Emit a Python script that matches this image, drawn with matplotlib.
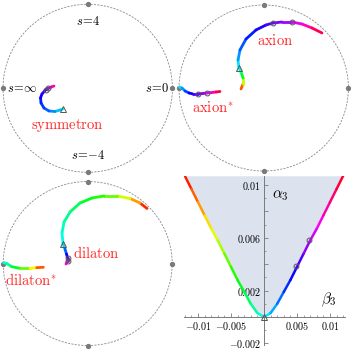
import numpy as np
import matplotlib
matplotlib.use('Agg')
import matplotlib.pyplot as plt
from matplotlib.collections import LineCollection
from matplotlib.patches import Circle
from matplotlib.colors import Normalize
from matplotlib.ticker import FixedLocator, FixedFormatter

plt.rcParams['mathtext.fontset'] = 'cm'

# ---- disk-panel trajectories (unit disk coords) with hue along the curve ----
sym_x = [-0.292, -0.327, -0.386, -0.457, -0.516, -0.551, -0.557, -0.540, -0.504, -0.469, -0.433, -0.398]
sym_y = [-0.246, -0.258, -0.276, -0.270, -0.235, -0.175, -0.115, -0.068, -0.026, -0.002, 0.015, 0.027]
sym_h = [0.50, 0.53, 0.57, 0.60, 0.63, 0.65, 0.67, 0.69, 0.72, 0.76, 0.84, 0.97]
sym_marks_x = [-0.491, -0.463]
sym_marks_y = [-0.018, -0.002]

axion_x = [-0.268, -0.244, -0.244, -0.268, -0.292, -0.303, -0.280, -0.209, -0.091, 0.027,
           0.110, 0.216, 0.334, 0.452, 0.570, 0.688]
axion_y = [-0.012, 0.048, 0.120, 0.193, 0.241, 0.337, 0.458, 0.590, 0.699, 0.759,
           0.783, 0.795, 0.795, 0.771, 0.723, 0.663]
axion_h = [0.0, 0.12, 0.30, 0.42, 0.50, 0.55, 0.60, 0.64, 0.68, 0.71,
           0.74, 0.77, 0.80, 0.85, 0.92, 1.0]
axion_marks_x = [0.110, 0.334]
axion_marks_y = [0.783, 0.795]

axs_x = [-0.994, -0.965, -0.929, -0.882, -0.835, -0.776, -0.717, -0.670, -0.610, -0.563, -0.516]
axs_y = [0.012, 0.0, -0.036, -0.060, -0.072, -0.072, -0.066, -0.060, -0.054, -0.048, -0.042]
axs_h = [0.50, 0.55, 0.60, 0.66, 0.70, 0.74, 0.77, 0.80, 0.86, 0.93, 1.0]
axs_marks_x = [-0.776, -0.670]
axs_marks_y = [-0.072, -0.060]

dil_x = [0.702, 0.619, 0.501, 0.347, 0.193, 0.051, -0.091, -0.209, -0.280, -0.304,
         -0.292, -0.269, -0.251, -0.239, -0.239, -0.257]
dil_y = [0.671, 0.738, 0.793, 0.823, 0.823, 0.799, 0.738, 0.628, 0.506, 0.372,
         0.238, 0.177, 0.116, 0.067, 0.030, -0.006]
dil_h = [0.0, 0.06, 0.15, 0.25, 0.30, 0.34, 0.38, 0.42, 0.45, 0.48,
         0.50, 0.57, 0.65, 0.72, 0.80, 0.95]
dil_marks_x = [-0.239, -0.239]
dil_marks_y = [0.067, 0.030]

dls_x = [-0.996, -0.959, -0.899, -0.801, -0.683, -0.604, -0.525]
dls_y = [0.012, 0.0, -0.039, -0.059, -0.059, -0.051, -0.046]
dls_h = [0.50, 0.47, 0.40, 0.33, 0.22, 0.12, 0.0]

# ---- alpha3 vs beta3 boundary ----
beta3 = [-0.012, -0.011, -0.010, -0.009, -0.008, -0.007, -0.006, -0.005, -0.004, -0.003,
         -0.002, -0.001, 0.0, 0.001, 0.002, 0.003, 0.004, 0.005, 0.006, 0.007,
         0.008, 0.009, 0.010, 0.011, 0.012]
alpha3 = [0.0107, 0.0097, 0.0087, 0.0077, 0.0067, 0.0058, 0.0048, 0.0038, 0.0028, 0.0019,
          0.0010, 0.0003, 0.0, 0.0003, 0.0010, 0.0019, 0.0028, 0.0038, 0.0048, 0.0058,
          0.0067, 0.0077, 0.0087, 0.0097, 0.0107]
pt_beta = [0.0048, 0.0068]
pt_alpha = [0.0039, 0.0058]

W, H = 351, 349
RED = '#ff2424'
MEC = '#555555'


def hue_line(ax, x, y, colors, lw=2.0):
    pts = np.column_stack([x, y])
    segs = np.stack([pts[:-1], pts[1:]], axis=1)
    lc = LineCollection(segs, colors=colors, linewidths=lw, capstyle='round', joinstyle='round')
    ax.add_collection(lc)


def mid_hue(h):
    h = np.asarray(h)
    return plt.cm.hsv((h[:-1] + h[1:]) / 2)


def disk_axes(fig, cx, cy, rx, ry):
    pad = 1.04
    ax = fig.add_axes([(cx - pad * rx) / W, (H - cy - pad * ry) / H, 2 * pad * rx / W, 2 * pad * ry / H])
    ax.set_xlim(-pad, pad)
    ax.set_ylim(-pad, pad)
    ax.axis('off')
    ax.add_patch(Circle((0, 0), 1, fill=False, ec='#8a8a8a', lw=0.6, ls=(0, (2.5, 1.5))))
    ax.plot([0, 0, 1, -1], [1, -1, 0, 0], 'o', ms=2.8, color='#7a7a7a', clip_on=False)
    return ax


def marks(ax, x, y, marker='o', ms=3.5):
    ax.plot(x, y, marker, ms=ms, mfc='none', mec=MEC, mew=0.7, zorder=5)


fig = plt.figure(figsize=(W / 100, H / 100), dpi=100)

# top-left: symmetron
ax1 = disk_axes(fig, 87.7, 88.3, 84.7, 84)
hue_line(ax1, sym_x, sym_y, mid_hue(sym_h))
marks(ax1, sym_marks_x, sym_marks_y)
marks(ax1, [sym_x[0]], [sym_y[0]], '^', 4)
ax1.text(0, 0.79, r'$s\!=\!4$', ha='center', va='center', fontsize=9)
ax1.text(-0.77, 0, r'$s\!=\!\infty$', ha='center', va='center', fontsize=9)
ax1.text(0.815, 0, r'$s\!=\!0$', ha='center', va='center', fontsize=9)
ax1.text(0, -0.80, r'$s\!=\!{-}4$', ha='center', va='center', fontsize=9)
ax1.text(-0.24, -0.445, r'$\mathrm{symmetron}$', ha='center', va='center', fontsize=10.5, color=RED)

# top-right: axion
ax2 = disk_axes(fig, 263.7, 88, 84.7, 83)
hue_line(ax2, axion_x, axion_y, mid_hue(axion_h))
hue_line(ax2, axs_x, axs_y, mid_hue(axs_h))
marks(ax2, axion_marks_x, axion_marks_y)
marks(ax2, axs_marks_x, axs_marks_y)
marks(ax2, [axion_x[4]], [axion_y[4]], '^', 4)
ax2.text(0.13, 0.578, r'$\mathrm{axion}$', ha='center', va='center', fontsize=10.5, color=RED)
ax2.text(-0.60, -0.233, r'$\mathrm{axion}^{*}$', ha='center', va='center', fontsize=10.5, color=RED)

# bottom-left: dilaton
ax3 = disk_axes(fig, 87.7, 263.5, 84.5, 82)
hue_line(ax3, dil_x, dil_y, mid_hue(dil_h))
hue_line(ax3, dls_x, dls_y, mid_hue(dls_h))
marks(ax3, dil_marks_x, dil_marks_y)
marks(ax3, [dil_x[10]], [dil_y[10]], '^', 4)
ax3.text(0.10, 0.124, r'$\mathrm{dilaton}$', ha='center', va='center', fontsize=10.5, color=RED)
ax3.text(-0.67, -0.20, r'$\mathrm{dilaton}^{*}$', ha='center', va='center', fontsize=10.5, color=RED)

# bottom-right: alpha3 vs beta3
x0, y0, sx, sy = 264, 317, 6600, 13200
xlo, xhi, ylo, yhi = -0.0121, 0.0122, -0.0021, 0.0107
ax4 = fig.add_axes([(x0 + xlo * sx) / W, (H - y0 + ylo * sy) / H,
                    (xhi - xlo) * sx / W, (yhi - ylo) * sy / H])
ax4.set_xlim(xlo, xhi)
ax4.set_ylim(ylo, yhi)
ax4.fill_between(beta3, alpha3, yhi, color='#dde3ee', lw=0)
b = np.asarray(beta3)
hue_line(ax4, beta3, alpha3, plt.cm.hsv(Normalize(-0.012, 0.012)((b[:-1] + b[1:]) / 2)), lw=1.8)
marks(ax4, pt_beta, pt_alpha)
marks(ax4, [0], [0], '^', 4)

for s in ['top', 'right']:
    ax4.spines[s].set_visible(False)
for s in ['left', 'bottom']:
    ax4.spines[s].set_position(('data', 0))
    ax4.spines[s].set_color('#7a7a7a')
    ax4.spines[s].set_linewidth(0.7)
ax4.set_facecolor('none')

yt = [-0.002, 0.002, 0.004, 0.006, 0.008, 0.01]
ax4.yaxis.set_major_locator(FixedLocator(yt))
ax4.yaxis.set_major_formatter(FixedFormatter([r'$-0.002$', r'$0.002$', '', r'$0.006$', '', r'$0.01$']))
xt = [-0.01, -0.005, 0.005, 0.01]
ax4.xaxis.set_major_locator(FixedLocator(xt))
ax4.xaxis.set_major_formatter(FixedFormatter([r'$-0.01$', r'$-0.005$', r'$0.005$', r'$0.01$']))
ax4.xaxis.set_minor_locator(FixedLocator([v / 1000 for v in range(-12, 13) if v % 5 != 0]))
ax4.yaxis.set_minor_locator(FixedLocator([v / 1000 for v in range(-2, 11) if v % 2 != 0]))
ax4.tick_params(which='major', direction='in', length=3, width=0.6, color='#7a7a7a', labelsize=7.2, pad=2)
ax4.tick_params(which='minor', direction='in', length=1.5, width=0.5, color='#7a7a7a')
ax4.text(0.0024, 0.0092, r'$\alpha_3$', ha='center', va='center', fontsize=11)
ax4.text(0.0098, 0.0013, r'$\beta_3$', ha='center', va='center', fontsize=11)

fig.savefig('out.png', dpi=100)
